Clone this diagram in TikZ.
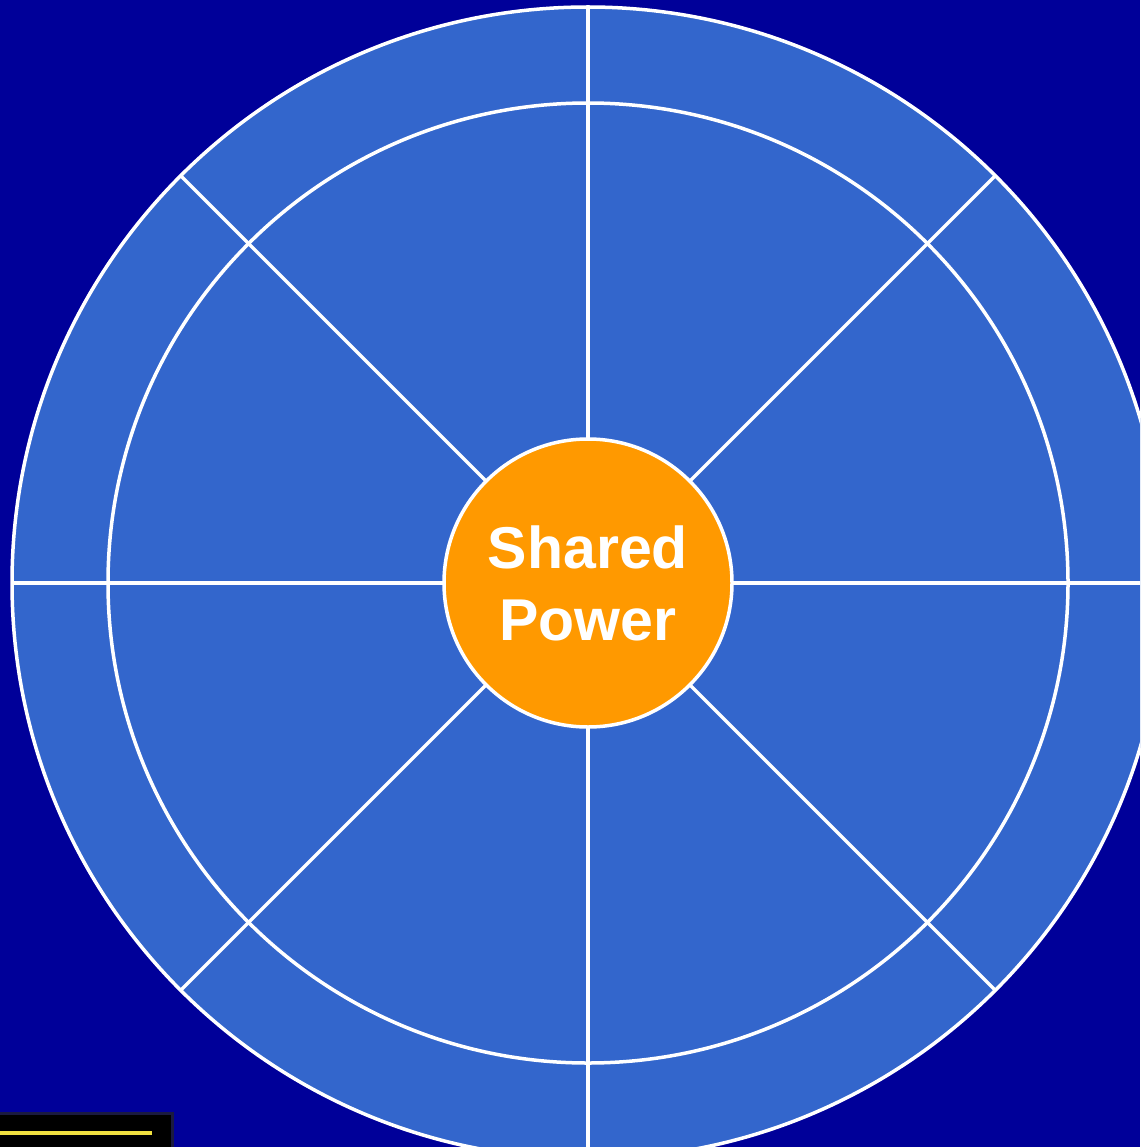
\documentclass[tikz,border=0pt]{standalone}
\usepackage{fontspec}
\setmainfont{Liberation Sans}
\definecolor{bgblue}{HTML}{000099}
\definecolor{wheelblue}{HTML}{3366CC}
\definecolor{hubor}{HTML}{FF9900}
\definecolor{lineyel}{HTML}{F0E040}
\definecolor{boxedge}{HTML}{1A1A40}
\begin{document}
\begin{tikzpicture}[x=1pt,y=-1pt,
  wline/.style={draw=white,line width=3.5pt},
  ring/.style={circle,inner sep=0pt,outer sep=0pt,line width=3.5pt,draw=white},
  spoke/.style={wline}]
\useasboundingbox (0,0) rectangle (1140,1147);
\clip (0,0) rectangle (1140,1147);
\fill[bgblue] (0,0) rectangle (1140,1147);
\node[ring,fill=wheelblue,minimum size=1152pt] (rim) at (588,583) {};
\node[ring,minimum size=960pt] (inner) at (588,583) {};
\node[ring,fill=hubor,minimum size=288pt,align=center,text=white,
      font=\bfseries\fontsize{59}{72}\selectfont] (hub) at (588,583) {\raisebox{-2pt}{Shared}\\\raisebox{-2pt}{Power}};
\foreach \a in {0,45,...,315}{
  \draw[spoke] (hub.\a) -- (rim.\a);
}
\node[draw=boxedge,fill=black,line width=3pt,inner sep=0pt,outer sep=0pt,
      minimum width=180pt,minimum height=36pt,anchor=north west] (legend) at (-8,1113) {};
\coordinate (ya) at (-5,1133);
\coordinate (yb) at (152,1133);
\draw[lineyel,line width=4pt] (ya) -- (yb);
\end{tikzpicture}
\end{document}
